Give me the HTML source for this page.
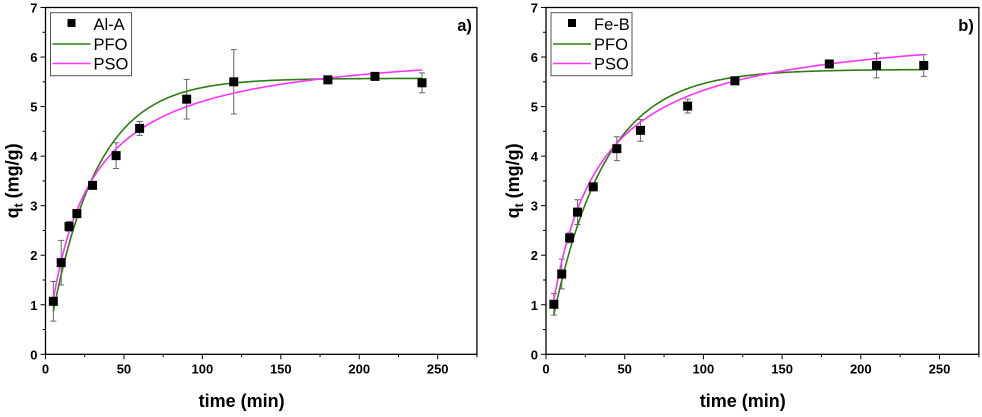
<!DOCTYPE html>
<html><head><meta charset="utf-8"><style>
body{margin:0;background:#fff;width:982px;height:412px;overflow:hidden}
svg{font-family:"Liberation Sans",Arial,sans-serif}
</style></head><body>
<svg id="chart" width="982" height="412"></svg>
<script>
const times=[5,10,15,20,30,45,60,90,120,180,210,240];
const qA=[1.07,1.85,2.58,2.84,3.41,4.01,4.56,5.15,5.5,5.54,5.61,5.48];
const errA=[0.4,0.45,0.1,0.05,0.05,0.26,0.14,0.4,0.65,0.06,0.05,0.2];
const qB=[1.01,1.62,2.35,2.87,3.38,4.15,4.52,5.01,5.52,5.86,5.83,5.83];
const errB=[0.22,0.3,0.1,0.25,0.05,0.24,0.22,0.14,0.06,0.05,0.25,0.22];
const pfoA=[5.57,0.034];const psoA=[6.3,0.00678];
const pfoB=[5.75,0.030];const psoB=[6.7,0.00579];
const xTicks=[0,50,100,150,200,250];const yTicks=[0,1,2,3,4,5,6,7];
const NS="http://www.w3.org/2000/svg";const svg=document.getElementById('chart');
function mk(t,a,p){const e=document.createElementNS(NS,t);for(const k in a)e.setAttribute(k,a[k]);(p||svg).appendChild(e);return e;}
function panel(ox,x250,label,name,q,err,pfo,pso,tag){
 const g=mk('g',{});
 
 
 const top=7.5,bot=354.3;const sx=v=>ox+(x250-ox)*v/250;const sy=v=>bot-(bot-top)*v/7;
 const right=sx(275);
 const frame=mk('rect',{x:ox,y:top,width:right-ox,height:bot-top,fill:'none',stroke:'#000','stroke-width':1.3},g);
 
 for(let v=0;v<=275;v+=25){const x=sx(v);mk('line',{x1:x,x2:x,y1:bot,y2:bot+(v%50?3:5),stroke:'#000','stroke-width':1},g);}
 xTicks.forEach(v=>{const t=mk('text',{x:sx(v),y:bot+19,'text-anchor':'middle','font-size':13,'font-weight':'bold'},g);t.textContent=v;});
 for(let v=0;v<=7;v+=0.5){const y=sy(v);mk('line',{x1:ox,x2:ox-(v%1?3:5),y1:y,y2:y,stroke:'#000','stroke-width':1},g);}
 yTicks.forEach(v=>{const t=mk('text',{x:ox-8,y:sy(v)+5,'text-anchor':'end','font-size':13,'font-weight':'bold'},g);t.textContent=v;});
 const xt=mk('text',{x:sx(125),y:407,'text-anchor':'middle','font-size':18,'font-weight':'bold'},g);xt.textContent='time (min)';
 
 const yt=mk('text',{transform:`translate(${ox-27},${sy(3.5)}) rotate(-90)`,'text-anchor':'middle','font-size':18,'font-weight':'bold'},g);
 yt.innerHTML='q<tspan font-size="12" dy="4">t</tspan><tspan dy="-4"> (mg/g)</tspan>';
 
 times.forEach((t,i)=>{const x=sx(t),y1=sy(q[i]-err[i]),y2=sy(q[i]+err[i]);
  const eb=mk('path',{d:`M${x},${y1}V${y2}M${x-3},${y1}H${x+3}M${x-3},${y2}H${x+3}`,stroke:'#666','stroke-width':1,fill:'none'},g);
  });
 let d1='',d2='';for(let t=5;t<=240;t+=1){const a=pfo[0]*(1-Math.exp(-pfo[1]*t));const b=pso[0]*pso[0]*pso[1]*t/(1+pso[0]*pso[1]*t);d1+=(t==5?'M':'L')+sx(t)+','+sy(a);d2+=(t==5?'M':'L')+sx(t)+','+sy(b);}
 const l1=mk('path',{d:d1,stroke:'#2e7d10','stroke-width':1.6,fill:'none'},g);
 const l2=mk('path',{d:d2,stroke:'#ff33ff','stroke-width':1.6,fill:'none'},g);
 times.forEach((t,i)=>{const r=mk('rect',{x:sx(t)-4.5,y:sy(q[i])-4.5,width:9,height:9,fill:'#000'},g);});
 const lg=mk('g',{},g);
 const lx=ox+5;mk('rect',{x:lx,y:12.7,width:81,height:63,fill:'#fff',stroke:'#555','stroke-width':1},lg);
 mk('rect',{x:lx+17,y:19,width:8,height:8,fill:'#000'},lg);
 mk('line',{x1:lx+2,x2:lx+40,y1:44,y2:44,stroke:'#2e7d10','stroke-width':1.6},lg);
 mk('line',{x1:lx+2,x2:lx+40,y1:63.5,y2:63.5,stroke:'#ff33ff','stroke-width':1.6},lg);
 [[name,30],['PFO',50],['PSO',69.5]].forEach(([s,y])=>{const t=mk('text',{x:lx+43,y:y,'font-size':16.5},lg);t.textContent=s;});
 const pl=mk('text',{x:right-5,y:31,'text-anchor':'end','font-size':16.5,'font-weight':'bold'},g);pl.textContent=label;
 
}
panel(45.5,437.7,'a)','Al-A',qA,errA,pfoA,psoA,'a');
panel(546,939.5,'b)','Fe-B',qB,errB,pfoB,psoB,'b');
</script>
</body></html>
